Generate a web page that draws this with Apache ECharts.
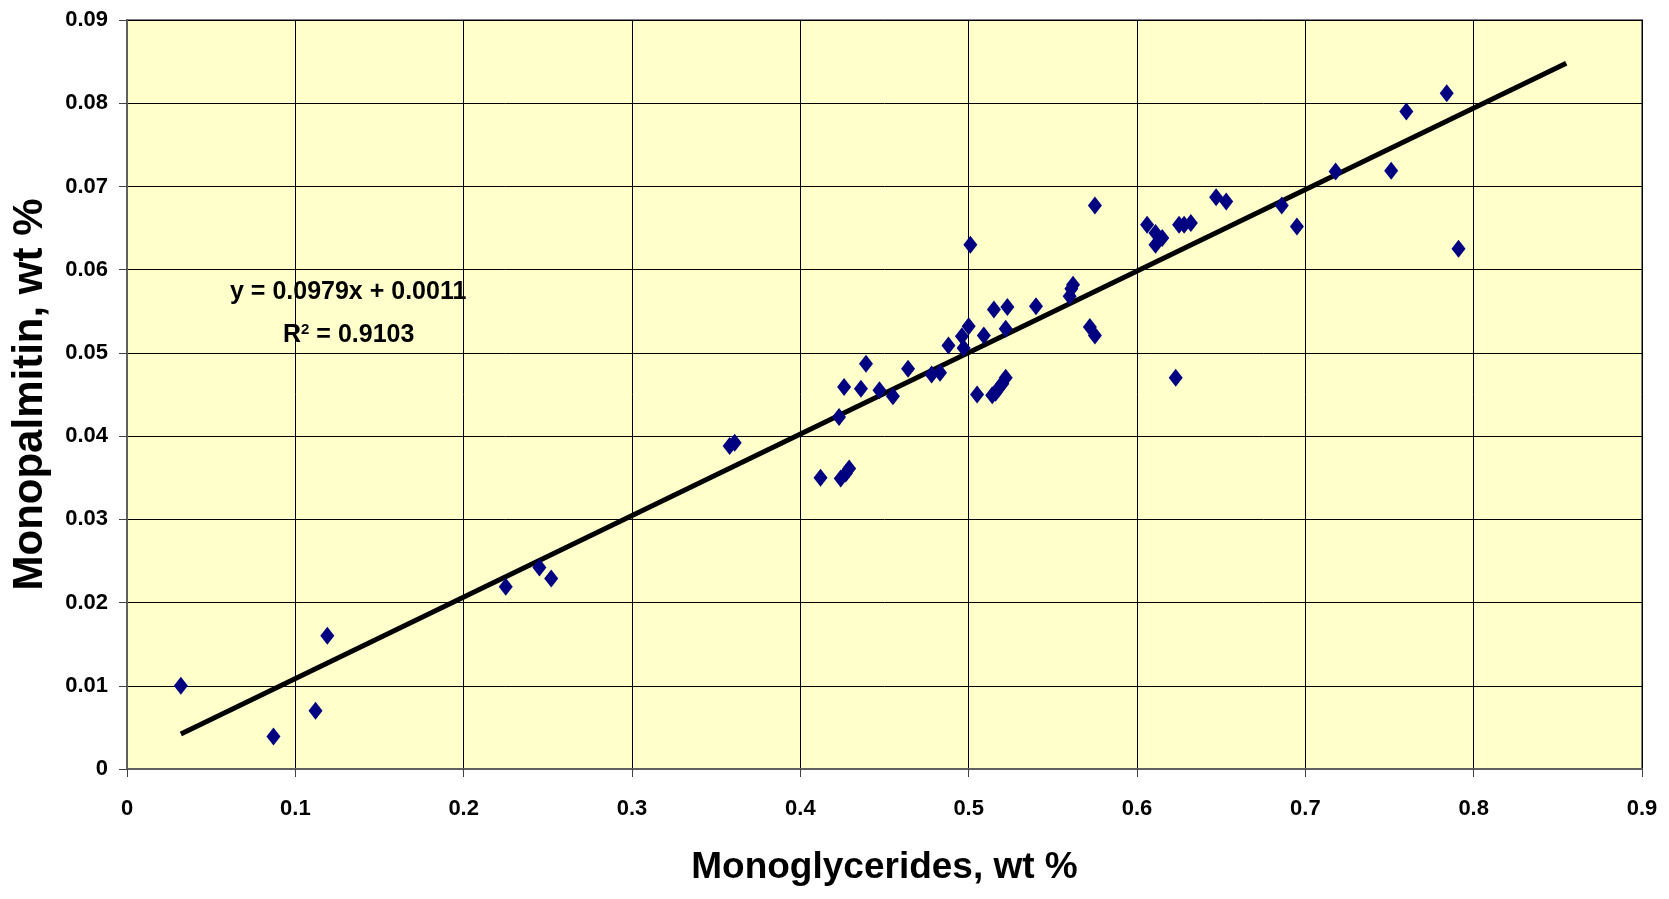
<!DOCTYPE html>
<html>
<head>
<meta charset="utf-8">
<script src="https://cdn.jsdelivr.net/npm/echarts@6/dist/echarts.min.js"></script>
<style>
html, body { margin: 0; padding: 0; background: #fff; }
#container { width: 1669px; height: 899px; }
</style>
</head>
<body>
<div id="container"></div>
<script>
// measured points (monoglycerides vs monopalmitin, wt %)
var mgX = [0.032, 0.087, 0.112, 0.119, 0.225, 0.245, 0.252, 0.358, 0.361, 0.412,
    0.424, 0.427, 0.429, 0.423, 0.426, 0.436, 0.439, 0.447, 0.455, 0.464,
    0.478, 0.483, 0.488, 0.496, 0.497, 0.500, 0.501, 0.509, 0.505, 0.514,
    0.516, 0.518, 0.520, 0.522, 0.515, 0.523, 0.522, 0.540, 0.560, 0.561,
    0.562, 0.575, 0.572, 0.575, 0.606, 0.611, 0.615, 0.611, 0.625, 0.628,
    0.632, 0.623, 0.647, 0.653, 0.686, 0.695, 0.718, 0.751, 0.760, 0.784,
    0.791];
var mpY = [0.0100, 0.0039, 0.0070, 0.0160, 0.0219, 0.0242, 0.0229, 0.0388, 0.0392, 0.0350,
    0.0349, 0.0355, 0.0361, 0.0423, 0.0459, 0.0457, 0.0487, 0.0455, 0.0448, 0.0481,
    0.0474, 0.0476, 0.0509, 0.0520, 0.0506, 0.0532, 0.0630, 0.0521, 0.0450, 0.0449,
    0.0452, 0.0458, 0.0463, 0.0470, 0.0552, 0.0555, 0.0529, 0.0556, 0.0568, 0.0577,
    0.0582, 0.0677, 0.0531, 0.0521, 0.0654, 0.0644, 0.0638, 0.0630, 0.0654, 0.0654,
    0.0656, 0.0470, 0.0687, 0.0682, 0.0677, 0.0652, 0.0718, 0.0719, 0.0790, 0.0812,
    0.0625];

// trend line ends
var trendX = [0.032, 0.855];
var trendY = [0.0042, 0.0848];

var xTicks = ['0', '0.1', '0.2', '0.3', '0.4', '0.5', '0.6', '0.7', '0.8', '0.9'];
var yTicks = ['0', '0.01', '0.02', '0.03', '0.04', '0.05', '0.06', '0.07', '0.08', '0.09'];

var eqLine1 = 'y = 0.0979x + 0.0011';
var eqLine2 = 'R{sup|2} = 0.9103';

var pts = mgX.map(function (x, i) { return [x, mpY[i]]; });
var trend = trendX.map(function (x, i) { return [x, trendY[i]]; });

var font = "'Liberation Sans', Arial, sans-serif";

var dom = document.getElementById('container');
var myChart = echarts.init(dom);
var option = {
    animation: false,
    backgroundColor: '#ffffff',
    grid: {
        left: 127,
        top: 20,
        width: 1515,
        height: 749,
        outerBoundsMode: 'none',
        containLabel: false,
        show: true,
        backgroundColor: '#FFFFCC',
        borderColor: '#808080',
        borderWidth: 2
    },
    xAxis: {
        type: 'value',
        min: 0,
        max: 0.9,
        interval: 0.1,
        name: 'Monoglycerides, wt %',
        nameLocation: 'middle',
        nameGap: 80,
        nameTextStyle: { fontFamily: font, fontWeight: 'bold', fontSize: 37, color: '#000' },
        axisLine: { lineStyle: { color: '#606060', width: 2 } },
        axisTick: { show: true, length: 8, lineStyle: { color: '#404040' } },
        axisLabel: {
            margin: 29,
            fontFamily: font, fontWeight: 'bold', fontSize: 22, color: '#000',
            formatter: function (v) { return xTicks[Math.round(v * 10)]; }
        },
        splitLine: { show: true, lineStyle: { color: '#000', width: 1 } }
    },
    yAxis: {
        type: 'value',
        min: 0,
        max: 0.09,
        interval: 0.01,
        name: 'Monopalmitin, wt %',
        nameLocation: 'middle',
        nameGap: 76,
        nameRotate: 90,
        nameTextStyle: { fontFamily: font, fontWeight: 'bold', fontSize: 42, color: '#000' },
        axisLine: { show: true, lineStyle: { color: '#606060', width: 2 } },
        axisTick: { show: true, length: 8, lineStyle: { color: '#404040' } },
        axisLabel: {
            margin: 19,
            fontFamily: font, fontWeight: 'bold', fontSize: 22, color: '#000',
            formatter: function (v) { return yTicks[Math.round(v * 100)]; }
        },
        splitLine: { show: true, lineStyle: { color: '#000', width: 1 } }
    },
    graphic: [
        {
            type: 'text',
            left: 230,
            top: 280,
            style: {
                text: eqLine1,
                font: 'bold 25px ' + font,
                fill: '#000'
            }
        },
        {
            type: 'text',
            left: 283,
            top: 322,
            style: {
                text: eqLine2,
                font: 'bold 25px ' + font,
                fill: '#000',
                rich: {
                    sup: { fontFamily: font, fontWeight: 'bold', fontSize: 15, verticalAlign: 'top', padding: [0, 0, 12, 0] }
                }
            }
        }
    ],
    series: [
        {
            name: 'trend',
            type: 'line',
            data: trend,
            symbol: 'none',
            lineStyle: { color: '#000', width: 5 },
            z: 3
        },
        {
            name: 'data',
            type: 'scatter',
            data: pts,
            symbol: 'diamond',
            symbolSize: [14, 18],
            itemStyle: { color: '#000080', opacity: 1 },
            z: 4
        }
    ]
};
if (option && typeof option === 'object') {
    myChart.setOption(option, true);
}
</script>
</body>
</html>
